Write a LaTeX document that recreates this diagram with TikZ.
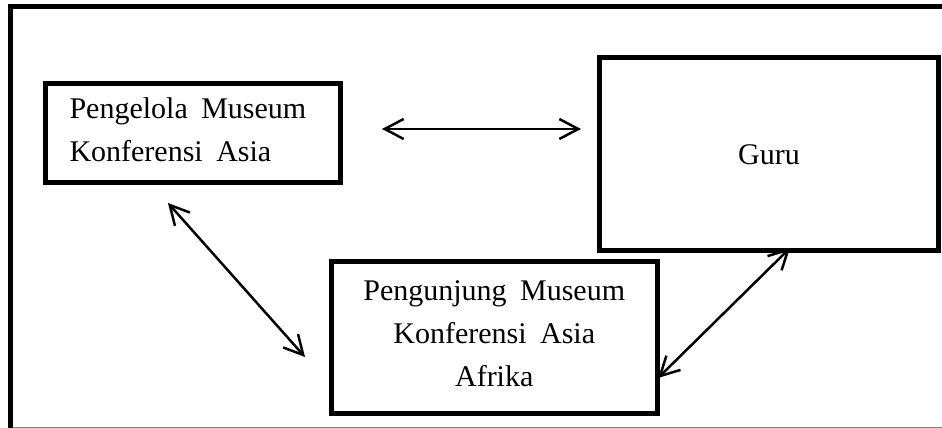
\documentclass[tikz,border=0pt]{standalone}
\usepackage{fontspec}
\setmainfont{Liberation Serif}
\usetikzlibrary{arrows.meta}
\newcommand{\wgap}{\hspace{0.45em}}
\begin{document}
\begin{tikzpicture}[x=1pt,y=-1pt,
  box/.style={draw, line width=5pt, rectangle, inner sep=0pt, anchor=north west,
    font=\fontsize{30}{43}\selectfont},
  barb/.tip={Straight Barb[length=19pt,width=20pt,line width=2.5pt]},
  link/.style={line width=2.5pt, barb-barb},
  frameline/.style={line width=5pt}]
\useasboundingbox (0,0) rectangle (942,428);
\draw[frameline] (10.8,428) -- (10.8,6.3) -- (942,6.3);
\draw[gray, line width=1.2pt] (13,427.4) -- (942,427.4);
\node[box, minimum width=295.5pt, minimum height=99pt, text width=246.5pt,
  align=left, inner xsep=24.5pt] (pengelola) at (42.5,80.5)
  {Pengelola\wgap Museum\\Konferensi\wgap Asia\vphantom{g}};
\node[box, minimum width=339pt, minimum height=192.5pt] (guru) at (597,55.5) {Guru};
\node[box, minimum width=325.5pt, minimum height=152pt, align=center] (pengunjung) at (329,258.5)
  {Pengunjung\wgap Museum\\Konferensi\wgap Asia\\Afrika\vphantom{g}};
\coordinate (h1) at (382,129);
\coordinate (h2) at (581,129);
\coordinate (d1) at (168,203);
\coordinate (d2) at (305,357);
\coordinate (e1) at (790,248);
\coordinate (e2) at (658,378);
\draw[link] (h1) -- (h2);
\draw[link] (d1) -- (d2);
\draw[link] (e1) -- (e2);
\end{tikzpicture}
\end{document}
